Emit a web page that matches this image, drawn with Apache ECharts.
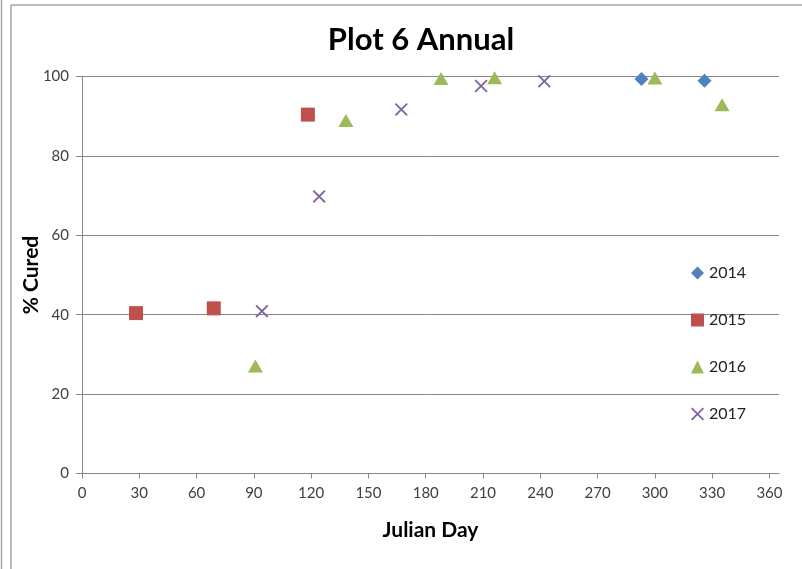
<!DOCTYPE html>
<html>
<head>
<meta charset="utf-8">
<script src="https://cdn.jsdelivr.net/npm/echarts@6/dist/echarts.min.js"></script>
<style>
html,body{margin:0;padding:0;background:#fff;}
#c{width:802px;height:569px;}
</style>
</head>
<body>
<div id="c"></div>
<script>
const seriesNames = ['2014', '2015', '2016', '2017'];
const days2014 = [293, 326];
const cured2014 = [99.4, 98.9];
const days2015 = [28.3, 69, 118.3];
const cured2015 = [40.4, 41.6, 90.4];
const days2016 = [90.8, 138.2, 188, 216.1, 300, 335.2];
const cured2016 = [27.1, 88.9, 99.5, 99.7, 99.6, 92.9];
const days2017 = [94.2, 124.2, 167.2, 209, 242.1];
const cured2017 = [40.9, 69.8, 91.7, 97.6, 98.8];
const xTicks = [0, 30, 60, 90, 120, 150, 180, 210, 240, 270, 300, 330, 360];
const yTicks = [0, 20, 40, 60, 80, 100];

const colors = ['#4F81BD', '#C0504D', '#9BBB59', '#8064A2'];
const xPath = 'path://M0,1L1,0L5,4L9,0L10,1L6,5L10,9L9,10L5,6L1,10L0,9L4,5Z';
const symbols = ['diamond', 'rect', 'triangle', xPath];
const sizes = [[14, 14], [14, 14], [15, 13], [13, 13]];
const allX = [days2014, days2015, days2016, days2017];
const allY = [cured2014, cured2015, cured2016, cured2017];

const FONT = 'Lato';
const gridColor = '#878787';

const chart = echarts.init(document.getElementById('c'), null, {renderer: 'canvas'});
chart.setOption({
  animation: false,
  backgroundColor: '#fff',
  title: {
    text: 'Plot 6 Annual',
    left: 416, top: 19, textAlign: 'center',
    textStyle: {fontFamily: FONT, fontWeight: 'bold', fontSize: 31, color: '#000'}
  },
  legend: {
    orient: 'vertical',
    left: 686, top: 260,
    itemGap: 31,
    itemWidth: 13, itemHeight: 13,
    data: seriesNames,
    textStyle: {fontFamily: FONT, fontSize: 16, color: '#222'}
  },
  grid: {left: 82, right: 23, top: 76.5, bottom: 95.5, containLabel: false},
  xAxis: {
    type: 'value', min: 0, max: 365, interval: 30,
    name: 'Julian Day', nameLocation: 'middle', nameGap: 46, nameMoveOverlap: false,
    nameTextStyle: {fontFamily: FONT, fontWeight: 'bold', fontSize: 21, color: '#000'},
    axisLine: {show: true, onZero: false, lineStyle: {color: gridColor, width: 1}},
    axisTick: {show: true, length: 5, customValues: xTicks, lineStyle: {color: gridColor}},
    axisLabel: {customValues: xTicks, fontFamily: FONT, fontSize: 15, color: '#404040', margin: 12},
    splitLine: {show: false}
  },
  yAxis: {
    type: 'value', min: 0, max: 100, interval: 20,
    name: '% Cured', nameLocation: 'middle', nameGap: 40, nameMoveOverlap: false,
    nameTextStyle: {fontFamily: FONT, fontWeight: 'bold', fontSize: 21, color: '#000'},
    axisLine: {show: true, lineStyle: {color: gridColor, width: 1}},
    axisTick: {show: true, length: 6, lineStyle: {color: gridColor}},
    axisLabel: {customValues: yTicks, fontFamily: FONT, fontSize: 15, color: '#404040', margin: 13},
    splitLine: {show: true, lineStyle: {color: gridColor, width: 1}}
  },
  graphic: [
    {type: 'line', shape: {x1: 1.5, y1: 0, x2: 1.5, y2: 569}, style: {stroke: '#a6a6a6', lineWidth: 1.5}, silent: true},
    {type: 'line', shape: {x1: 11, y1: 5, x2: 11, y2: 569}, style: {stroke: '#a6a6a6', lineWidth: 1.5}, silent: true},
    {type: 'line', shape: {x1: 11, y1: 5, x2: 802, y2: 5}, style: {stroke: '#a6a6a6', lineWidth: 1.5}, silent: true}
  ],
  series: seriesNames.map((n, i) => ({
    name: n,
    type: 'scatter',
    symbol: symbols[i],
    symbolSize: sizes[i],
    itemStyle: {color: colors[i], opacity: 1},
    data: allX[i].map((x, j) => [x, allY[i][j]]),
    z: 2 + i
  }))
});
</script>
</body>
</html>
